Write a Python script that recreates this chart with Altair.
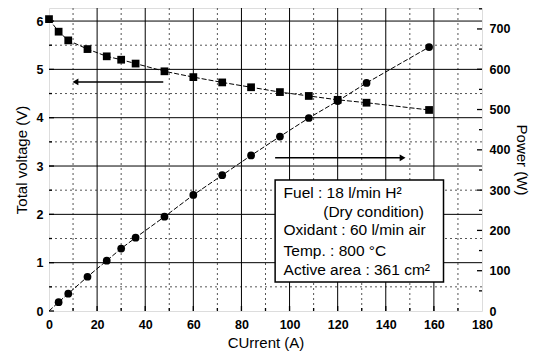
import altair as alt
import pandas as pd

# ---- data ----
current = [0, 4, 8, 16, 24, 30, 36, 48, 60, 72, 84, 96, 108, 120, 132, 158]
voltage = [6.04, 5.78, 5.60, 5.42, 5.27, 5.20, 5.12, 4.96, 4.84, 4.73, 4.63, 4.53, 4.45, 4.37, 4.31, 4.16]
power = [0, 22, 43, 85, 125, 155, 182, 234, 288, 337, 386, 433, 479, 521, 566, 655]

x_major = [20, 40, 60, 80, 100, 120, 140, 160]
x_minor = [10, 30, 50, 70, 90, 110, 130, 150, 170]
v_major = [1, 2, 3, 4, 5, 6]
v_minor = [0.5, 1.5, 2.5, 3.5, 4.5, 5.5]
p_major = [100, 200, 300, 400, 500, 600, 700]
p_minor = [50, 150, 250, 350, 450, 550, 650, 750]

box_lines = ["Fuel : 18 l/min H\u00b2", "(Dry condition)", "Oxidant : 60 l/min air",
             "Temp. : 800 \u00b0C", "Active area : 361 cm\u00b2"]
box_text_x = [97.5, 114, 97.5, 97.5, 97.5]
box_text_y = [2.44, 2.05, 1.68, 1.25, 0.84]

W, H = 433, 303
FONT = "Liberation Sans"

df = pd.DataFrame({"I": current, "V": voltage, "P": power})
df_pts_p = df[df["I"] > 0]

xs = alt.Scale(domain=[0, 180], nice=False, zero=False)
yvs = alt.Scale(domain=[0, 6.27], nice=False, zero=False)
yps = alt.Scale(domain=[0, 752], nice=False, zero=False)

x_axis = alt.Axis(values=[0, 20, 40, 60, 80, 100, 120, 140, 160, 180], title="CUrrent (A)",
                  grid=False, domain=False, ticks=False, labelPadding=7, titlePadding=5,
                  labelFont=FONT, labelFontSize=12.5, labelFontWeight="bold", labelColor="black",
                  titleFont=FONT, titleFontSize=15, titleFontWeight="normal", titleColor="black",
                  labelFlush=False)
yv_axis = alt.Axis(values=[0, 1, 2, 3, 4, 5, 6], title="Total voltage (V)", orient="left",
                   grid=False, domain=False, ticks=False, labelPadding=6, titlePadding=7,
                   labelFont=FONT, labelFontSize=12.5, labelFontWeight="bold", labelColor="black",
                   titleFont=FONT, titleFontSize=15, titleFontWeight="normal", titleColor="black",
                   labelFlush=False)
yp_axis = alt.Axis(values=[0, 100, 200, 300, 400, 500, 600, 700], title="Power (W)", orient="right",
                   grid=False, domain=False, ticks=False, labelPadding=7, titlePadding=4,
                   labelFont=FONT, labelFontSize=12.5, labelFontWeight="bold", labelColor="black",
                   titleFont=FONT, titleFontSize=15, titleFontWeight="normal", titleColor="black",
                   labelFlush=False)

X = lambda f: alt.X(f, type="quantitative", scale=xs, axis=x_axis)
YV = lambda f: alt.Y(f, type="quantitative", scale=yvs, axis=yv_axis)
YP = lambda f: alt.Y(f, type="quantitative", scale=yps, axis=yp_axis)

# grid
gx_major = alt.Chart(pd.DataFrame({"x": x_major})).mark_rule(color="black", strokeWidth=1).encode(x=X("x"))
gx_minor = alt.Chart(pd.DataFrame({"x": x_minor})).mark_rule(color="#555", strokeWidth=1, strokeDash=[2, 3]).encode(x=X("x"))
gy_major = alt.Chart(pd.DataFrame({"y": v_major})).mark_rule(color="black", strokeWidth=1).encode(y=YV("y"))
gy_minor = alt.Chart(pd.DataFrame({"y": v_minor})).mark_rule(color="#555", strokeWidth=1, strokeDash=[2, 3]).encode(y=YV("y"))

# inward ticks
tick_left_major = alt.Chart(pd.DataFrame({"y": [0] + v_major})).mark_rule(color="black", strokeWidth=1.3).encode(
    y=YV("y"), x=alt.value(0), x2=alt.value(5))
tick_left_minor = alt.Chart(pd.DataFrame({"y": v_minor})).mark_rule(color="black", strokeWidth=1.3).encode(
    y=YV("y"), x=alt.value(0), x2=alt.value(3))
tick_bot_major = alt.Chart(pd.DataFrame({"x": x_major})).mark_rule(color="black", strokeWidth=1.3).encode(
    x=X("x"), y=alt.value(H), y2=alt.value(H - 5))
tick_bot_minor = alt.Chart(pd.DataFrame({"x": x_minor})).mark_rule(color="black", strokeWidth=1.3).encode(
    x=X("x"), y=alt.value(H), y2=alt.value(H - 3))

# voltage series
v_line = alt.Chart(df).mark_line(color="black", strokeWidth=1, strokeDash=[5, 2]).encode(x=X("I"), y=YV("V"))
v_pts = alt.Chart(df).mark_point(shape="square", filled=True, color="black", size=60, opacity=1).encode(x=X("I"), y=YV("V"))

# arrows
arrows = pd.DataFrame({"x1": [47.5, 94], "x2": [11, 147], "y": [4.74, 3.17],
                       "shape": ["triangle-left", "triangle-right"]})
arrow_lines = alt.Chart(arrows).mark_rule(color="black", strokeWidth=1.5).encode(x=X("x1"), x2="x2:Q", y=YV("y"))
arrow_heads = alt.Chart(arrows).mark_point(filled=True, color="black", size=45, opacity=1).encode(
    x=X("x2"), y=YV("y"), shape=alt.Shape("shape:N", scale=None, legend=None))

# text box
box = alt.Chart(pd.DataFrame({"x1": [94], "x2": [164], "y1": [0.60], "y2": [2.71]})).mark_rect(
    fill="white", stroke="black", strokeWidth=1.5).encode(x=X("x1"), x2="x2:Q", y=YV("y1"), y2="y2:Q")
box_txt = alt.Chart(pd.DataFrame({"t": box_lines, "x": box_text_x, "y": box_text_y})).mark_text(
    align="left", baseline="middle", font=FONT, fontSize=15.5, color="black").encode(
    x=X("x"), y=YV("y"), text="t:N")

volt_group = alt.layer(gx_minor, gy_minor, gx_major, gy_major, tick_left_major, tick_left_minor,
                       tick_bot_major, tick_bot_minor, v_line, v_pts, arrow_lines, arrow_heads, box, box_txt)

# power series
p_line = alt.Chart(df).mark_line(color="black", strokeWidth=1, strokeDash=[5, 2]).encode(x=X("I"), y=YP("P"))
p_pts = alt.Chart(df_pts_p).mark_point(shape="circle", filled=True, color="black", size=60, opacity=1).encode(x=X("I"), y=YP("P"))
tick_r_major = alt.Chart(pd.DataFrame({"y": p_major})).mark_rule(color="black", strokeWidth=1.3).encode(
    y=YP("y"), x=alt.value(W - 5), x2=alt.value(W))
tick_r_minor = alt.Chart(pd.DataFrame({"y": p_minor})).mark_rule(color="black", strokeWidth=1.3).encode(
    y=YP("y"), x=alt.value(W - 3), x2=alt.value(W))

pow_group = alt.layer(tick_r_major, tick_r_minor, p_line, p_pts)

chart = alt.layer(volt_group, pow_group).resolve_scale(y="independent").properties(
    width=W, height=H,
    padding={"left": 41, "top": 0, "right": 49, "bottom": 42},
    autosize=alt.AutoSizeParams(type="none"),
).configure_view(stroke="black", strokeWidth=1.5).configure(background="white")

chart.save("out.html", embed_options={"renderer": "svg", "actions": False})
